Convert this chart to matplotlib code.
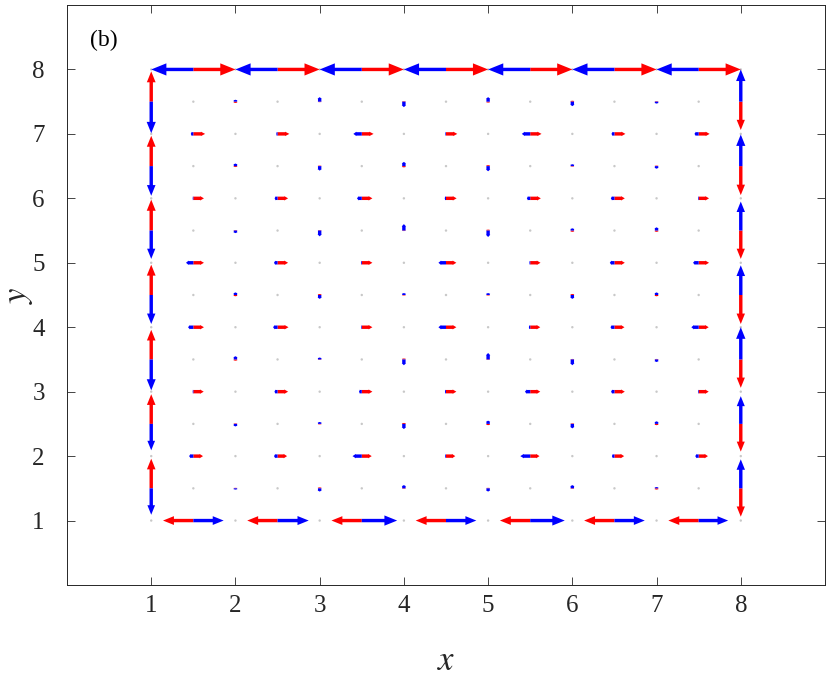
import numpy as np
import matplotlib
matplotlib.use("Agg")
import matplotlib.pyplot as plt

# ---------------- data ----------------
half = [1.5, 2.5, 3.5, 4.5, 5.5, 6.5, 7.5]
ints_inner = [2, 3, 4, 5, 6, 7]

# boundary arrows (located at half-integer positions along each edge)
top_red_u = [0.5, 0.5, 0.5, 0.5, 0.5, 0.5, 0.5]
top_blue_u = [-0.5, -0.5, -0.5, -0.5, -0.5, -0.5, -0.5]
bottom_red_u = [-0.36, -0.36, -0.36, -0.36, -0.36, -0.36, -0.36]
bottom_blue_u = [0.36, 0.37, 0.42, 0.36, 0.41, 0.36, 0.35]
left_red_v = [0.46, 0.46, 0.46, 0.47, 0.48, 0.47, 0.47]
left_blue_v = [-0.41, -0.41, -0.48, -0.45, -0.44, -0.46, -0.49]
right_blue_v = [0.45, 0.43, 0.50, 0.46, 0.45, 0.49, 0.50]
right_red_v = [-0.44, -0.43, -0.44, -0.45, -0.44, -0.45, -0.44]

# interior horizontal arrows at (half, y) for y = 2..7 (rows listed y=2 .. y=7)
h_rows_y = [2, 3, 4, 5, 6, 7]
h_red_u = [
    [0.115, 0.113, 0.118, 0.110, 0.110, 0.115, 0.110],
    [0.123, 0.125, 0.126, 0.123, 0.119, 0.123, 0.119],
    [0.126, 0.130, 0.126, 0.123, 0.119, 0.119, 0.119],
    [0.126, 0.125, 0.126, 0.123, 0.122, 0.123, 0.123],
    [0.126, 0.125, 0.126, 0.126, 0.126, 0.123, 0.123],
    [0.140, 0.140, 0.140, 0.134, 0.134, 0.130, 0.130],
]
h_blue_u = [
    [-0.050, -0.042, -0.110, -0.010, -0.118, -0.030, -0.040],
    [-0.008, -0.037, -0.033, -0.012, -0.063, -0.040, -0.008],
    [-0.063, -0.053, -0.008, -0.090, -0.016, -0.047, -0.087],
    [-0.087, -0.042, -0.010, -0.090, -0.010, -0.055, -0.067],
    [-0.008, -0.035, -0.057, -0.015, -0.040, -0.043, -0.008],
    [-0.030, -0.015, -0.100, -0.008, -0.100, -0.035, -0.050],
]

# interior vertical arrows at (x, half) for x = 2..7 (rows listed y=1.5 .. y=7.5)
v_rows_y = [1.5, 2.5, 3.5, 4.5, 5.5, 6.5, 7.5]
v_blue_v = [
    [-0.02, -0.05, 0.05, -0.05, 0.05, 0.02],
    [-0.04, 0.03, -0.08, 0.05, -0.07, 0.04],
    [0.05, 0.03, -0.09, 0.10, -0.09, -0.04],
    [0.04, -0.06, 0.03, 0.03, -0.06, 0.04],
    [-0.04, -0.09, 0.10, -0.10, 0.035, 0.05],
    [0.04, -0.07, 0.065, -0.08, 0.03, -0.04],
    [0.03, 0.07, -0.085, 0.07, -0.07, -0.03],
]
v_red_v = [
    [0.008, 0.015, -0.008, 0.008, -0.008, -0.02],
    [0.008, -0.008, 0.015, -0.02, 0.008, -0.02],
    [-0.02, -0.008, 0.015, -0.008, 0.008, 0.008],
    [-0.02, 0.015, -0.008, -0.008, 0.015, -0.02],
    [0.008, 0.008, -0.008, 0.015, -0.02, -0.02],
    [-0.015, 0.008, -0.02, 0.015, -0.008, 0.008],
    [-0.02, -0.008, 0.008, -0.015, 0.015, 0.008],
]

xticks = [1, 2, 3, 4, 5, 6, 7, 8]
yticks = [1, 2, 3, 4, 5, 6, 7, 8]

# ---------------- figure ----------------
plt.rcParams['font.family'] = ['Liberation Serif', 'DejaVu Serif']
plt.rcParams['mathtext.fontset'] = 'stix'

DPI = 100
fig = plt.figure(figsize=(8.3, 6.8), dpi=DPI)
ax = fig.add_axes([67 / 830, 95 / 680, (825 - 67) / 830, (675 - 95) / 680])
ax.set_xlim(0, 9)
ax.set_ylim(0, 9)

RED = (1, 0, 0)
BLUE = (0, 0, 1)
SHAFT_PX = 3.4

# grid dots at (int,int) and (half,half)
gx, gy = [], []
for i in range(1, 9):
    for j in range(1, 9):
        gx.append(i); gy.append(j)
for i in half:
    for j in half:
        gx.append(i); gy.append(j)
ax.scatter(gx, gy, s=3, color='#c8c8c8', edgecolors='none', zorder=1)

fig.canvas.draw()
o = ax.transData.transform((0, 0))
SX = ax.transData.transform((1, 0))[0] - o[0]   # px per x unit
SY = ax.transData.transform((0, 1))[1] - o[1]   # px per y unit


def arrow(x, y, u, v, color, z):
    if u != 0:
        L = abs(u) * SX
        perp = SY
        along = SX
    else:
        L = abs(v) * SY
        perp = SX
        along = SY
    if L < 0.3:
        return
    hl_px = 0.36 * L
    hw_px = max(0.29 * L, 1.3 * SHAFT_PX)
    ax.arrow(x, y, u, v, width=SHAFT_PX / perp, head_width=hw_px / perp,
             head_length=hl_px / along, length_includes_head=True,
             color=color, lw=0, zorder=z)


def draw_all(color, z, which):
    # boundary
    for k, xp in enumerate(half):
        if which == 'red':
            arrow(xp, 8, top_red_u[k], 0, color, z)
            arrow(xp, 1, bottom_red_u[k], 0, color, z)
            arrow(1, xp, 0, left_red_v[k], color, z)
            arrow(8, xp, 0, right_red_v[k], color, z)
        else:
            arrow(xp, 8, top_blue_u[k], 0, color, z)
            arrow(xp, 1, bottom_blue_u[k], 0, color, z)
            arrow(1, xp, 0, left_blue_v[k], color, z)
            arrow(8, xp, 0, right_blue_v[k], color, z)
    # interior horizontal
    for r, yy in enumerate(h_rows_y):
        for k, xp in enumerate(half):
            u = h_red_u[r][k] if which == 'red' else h_blue_u[r][k]
            arrow(xp, yy, u, 0, color, z)
    # interior vertical
    for r, yy in enumerate(v_rows_y):
        for k, xp in enumerate(ints_inner):
            v = v_red_v[r][k] if which == 'red' else v_blue_v[r][k]
            arrow(xp, yy, 0, v, color, z)


draw_all(RED, 3, 'red')
draw_all(BLUE, 4, 'blue')

# axes styling (MATLAB-like)
ax.set_xticks(xticks)
ax.set_yticks(yticks)
ax.set_xticklabels([str(t) for t in xticks])
ax.set_yticklabels([str(t) for t in yticks])
ax.tick_params(direction='in', length=6, width=0.6, top=True, right=True,
               labelsize=18, colors='#262626')
ax.tick_params(axis='x', pad=7)
ax.tick_params(axis='y', pad=16)
for sp in ax.spines.values():
    sp.set_color('#262626')
    sp.set_linewidth(0.7)

ax.set_xlabel('$x$', fontsize=25, labelpad=20, color='#262626')
ax.set_ylabel('$y$', fontsize=25, labelpad=-2, color='#262626')
ax.text(0.27, 8.45, '(b)', fontsize=17, va='center', ha='left', color='black')

fig.savefig('out.png', dpi=DPI)
